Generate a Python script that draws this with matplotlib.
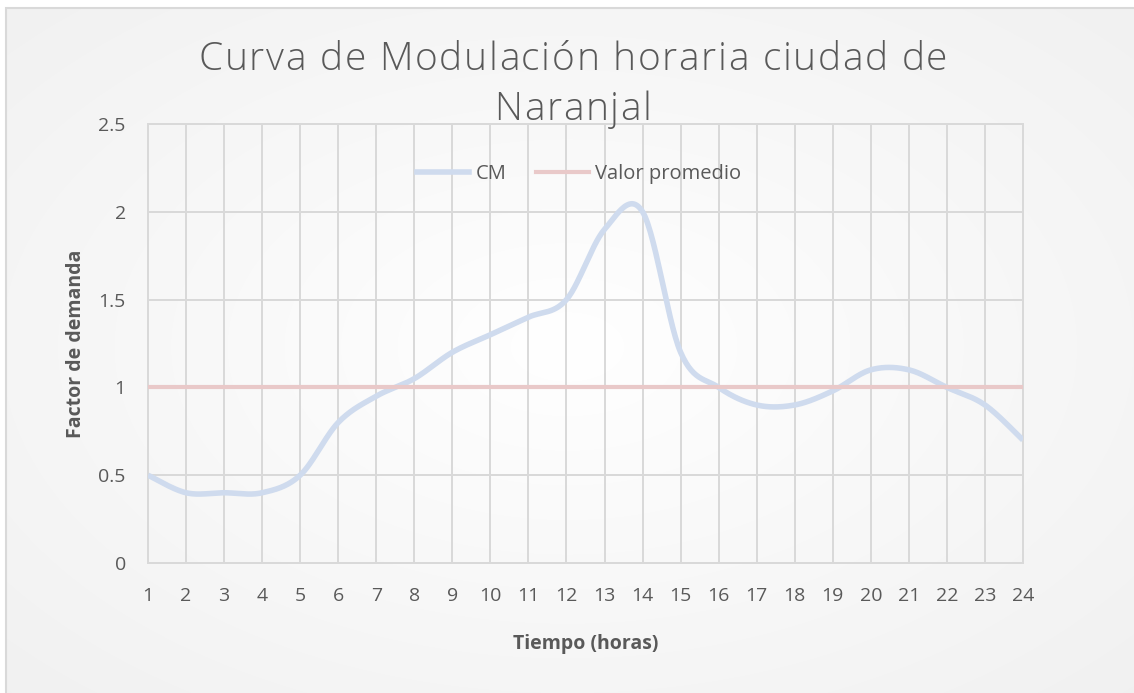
import numpy as np
import matplotlib
matplotlib.use("Agg")
import matplotlib.pyplot as plt
from matplotlib.patches import Rectangle
from matplotlib.lines import Line2D
from matplotlib.font_manager import FontProperties, findfont
from matplotlib.ft2font import FT2Font

hours = list(range(1, 25))
cm_values = [0.5, 0.4, 0.4, 0.4, 0.5, 0.8, 0.95, 1.05, 1.2, 1.3, 1.4, 1.5,
             1.9, 2.0, 1.2, 1.0, 0.9, 0.9, 0.98, 1.1, 1.1, 1.0, 0.9, 0.7]
avg_values = [1.0] * 24
y_ticks = [0, 0.5, 1, 1.5, 2, 2.5]
y_tick_labels = ["0", "0.5", "1", "1.5", "2", "2.5"]
title_lines = ["Curva de Modulación horaria ciudad de", "Naranjal"]
series_names = ["CM", "Valor promedio"]
x_label = "Tiempo (horas)"
y_label = "Factor de demanda"

plt.rcParams['font.family'] = ['Open Sans', 'DejaVu Sans']
TXT = '#595959'
CM_COL = '#cfdbee'
AVG_COL = '#e9c9c9'
DPI = 100

def smooth(xs, ys, n=30):
    xs = np.asarray(xs, float); ys = np.asarray(ys, float)
    P = np.column_stack([xs, ys])
    out = []
    m = len(P)
    for i in range(m - 1):
        p0 = P[i - 1] if i > 0 else P[i]
        p1 = P[i]; p2 = P[i + 1]
        p3 = P[i + 2] if i + 2 < m else P[i + 1]
        c1 = p1 + (p2 - p0) / 6.0
        c2 = p2 - (p3 - p1) / 6.0
        t = np.linspace(0, 1, n)[:, None]
        seg = ((1 - t) ** 3) * p1 + 3 * ((1 - t) ** 2) * t * c1 + 3 * (1 - t) * t ** 2 * c2 + t ** 3 * p2
        out.append(seg if i == 0 else seg[1:])
    s = np.vstack(out)
    return s[:, 0], s[:, 1]

def spaced_text(fig, text, cx_px, base_px, size, spacing_px, **kw):
    fp = FontProperties(family='Open Sans', weight=kw.get('fontweight', 'normal'))
    font = FT2Font(findfont(fp))
    font.set_size(size, DPI)
    advs = []
    for c in text:
        g = font.load_char(ord(c))
        advs.append(g.linearHoriAdvance / 65536.0)
    total = sum(advs) + spacing_px * (len(text) - 1)
    x = cx_px - total / 2.0
    Wf, Hf = fig.get_size_inches() * DPI
    for c, a in zip(text, advs):
        if c != ' ':
            fig.text(x / Wf, 1 - base_px / Hf, c, ha='left', va='baseline',
                     fontsize=size, **kw)
        x += a + spacing_px

W, H = 1134, 693
fig = plt.figure(figsize=(W / DPI, H / DPI), dpi=DPI)

# background radial gradient
bg = fig.add_axes([0, 0, 1, 1], zorder=-10)
yy, xx = np.mgrid[0:H, 0:W]
r = np.sqrt(((xx - W * 0.5) / (W * 0.7)) ** 2 + ((yy - H * 0.5) / (H * 0.7)) ** 2)
r = np.clip(r, 0, 1)
val = 1.0 - 0.055 * r
img = np.dstack([val, val, val])
img[:8, :, :] = 1.0
img[:, :6, :] = 1.0
bg.imshow(img, extent=[0, 1, 0, 1], aspect='auto', origin='upper')
bg.set_xlim(0, 1); bg.set_ylim(0, 1)
bg.axis('off')
bg.add_patch(Rectangle((6 / W, -0.05), 1.1, 1 - 8 / H + 0.05, fill=False,
                       edgecolor='#d9d9d9', linewidth=1.5))

left, right = 148 / W, 1023 / W
bottom, top = (H - 563) / H, (H - 124) / H
ax = fig.add_axes([left, bottom, right - left, top - bottom])
ax.set_facecolor('none')

ax.set_xlim(1, 24)
ax.set_ylim(0, 2.5)
ax.set_xticks(hours)
ax.set_xticklabels([str(h) for h in hours])
ax.set_yticks(y_ticks)
ax.set_yticklabels(y_tick_labels)
ax.grid(True, color='#d9d9d9', linewidth=1.4)
for s in ax.spines.values():
    s.set_color('#d9d9d9'); s.set_linewidth(1.4)
ax.tick_params(length=0, labelsize=14, colors=TXT)
ax.tick_params(axis='x', pad=17)
ax.tick_params(axis='y', pad=16)

sx, sy = smooth(hours, cm_values)
ax.plot(sx, sy, color=CM_COL, linewidth=4.0, solid_capstyle='butt', zorder=3)
ax.plot(hours, avg_values, color=AVG_COL, linewidth=3.0, solid_capstyle='butt', zorder=3)

ax.set_xlabel(x_label, fontsize=14, fontweight='bold', color=TXT, labelpad=21)
ax.set_ylabel(y_label, fontsize=14, fontweight='bold', color=TXT, labelpad=9)

spaced_text(fig, title_lines[0], 573, 70, 28, 1.7, color=TXT, fontweight='light')
spaced_text(fig, title_lines[1], 573, 120, 28, 1.7, color=TXT, fontweight='light')

handles = [Line2D([], [], color=CM_COL, linewidth=4.0),
           Line2D([], [], color=AVG_COL, linewidth=3.0)]
leg = fig.legend(handles, series_names, loc='center', bbox_to_anchor=(579 / W, 1 - 174 / H),
                 ncol=2, frameon=False, fontsize=14.5, handlelength=2.6, columnspacing=1.5,
                 handletextpad=0.3)
for t in leg.get_texts():
    t.set_color(TXT)

fig.savefig('out.png', dpi=DPI)
